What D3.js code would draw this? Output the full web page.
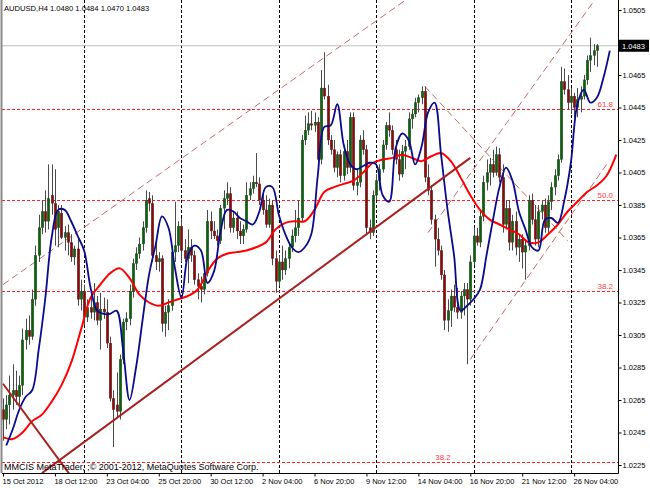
<!DOCTYPE html>
<html><head><meta charset="utf-8">
<script src="https://cdn.jsdelivr.net/npm/d3@7"></script>
<style>
html,body{margin:0;padding:0;background:#fff;}
svg{display:block;}
text{font-family:"Liberation Sans",Arial,sans-serif;}
</style></head><body>
<svg id="chart" width="650" height="488"></svg>
<script>
// ---------------- data ----------------
const chartTitle = "AUDUSD,H4  1.0480 1.0484 1.0470 1.0483";
const copyrightText = "MMCIS MetaTrader, ;\u00A9 2001-2012, MetaQuotes Software Corp.";
const lastPrice = 1.0483;

const openP = [
1.0259,1.0253,1.0262,1.0268,1.0271,1.0267,1.0274,1.0302,1.0308,1.0304,
1.0327,1.0354,1.0371,1.0381,1.0375,1.0391,1.0386,1.0371,1.0380,1.0365,
1.0368,1.0362,1.0353,1.0358,1.0327,1.0332,1.0316,1.0322,1.0319,1.0325,
1.0314,1.0321,1.0319,1.0300,1.0266,1.0262,1.0258,1.0290,1.0313,1.0315,
1.0332,1.0349,1.0355,1.0361,1.0371,1.0389,1.0386,1.0354,1.0350,1.0352,
1.0312,1.0319,1.0323,1.0356,1.0360,1.0372,1.0357,1.0352,1.0359,1.0354,
1.0339,1.0335,1.0333,1.0343,1.0375,1.0369,1.0366,1.0363,1.0383,1.0389,
1.0392,1.0371,1.0377,1.0369,1.0366,1.0370,1.0391,1.0395,1.0399,1.0398,
1.0388,1.0382,1.0373,1.0385,1.0352,1.0338,1.0350,1.0345,1.0352,1.0359,
1.0366,1.0371,1.0377,1.0425,1.0431,1.0435,1.0434,1.0436,1.0413,1.0457,
1.0452,1.0425,1.0419,1.0408,1.0416,1.0403,1.0418,1.0408,1.0439,1.0397,
1.0399,1.0425,1.0419,1.0371,1.0368,1.0391,1.0400,1.0407,1.0422,1.0434,
1.0431,1.0419,1.0413,1.0404,1.0418,1.0421,1.0438,1.0441,1.0448,1.0451,
1.0455,1.0402,1.0394,1.0376,1.0364,1.0357,1.0342,1.0314,1.0320,1.0329,
1.0322,1.0319,1.0329,1.0333,1.0327,1.0350,1.0366,1.0362,1.0378,1.0399,
1.0405,1.0410,1.0405,1.0416,1.0402,1.0373,1.0383,1.0362,1.0375,1.0359,
1.0364,1.0356,1.0360,1.0388,1.0376,1.0364,1.0381,1.0385,1.0371,1.0387,
1.0396,1.0403,1.0413,1.0461,1.0456,1.0448,1.0452,1.0445,1.0450,1.0452,
1.0462,1.0474,1.0477,1.0480];
const highP = [
1.0266,1.0268,1.0280,1.0287,1.0283,1.0280,1.0309,1.0315,1.0317,1.0333,
1.0360,1.0379,1.0388,1.0394,1.0410,1.0410,1.0407,1.0385,1.0385,1.0372,
1.0373,1.0367,1.0360,1.0364,1.0339,1.0336,1.0327,1.0330,1.0337,1.0329,
1.0331,1.0328,1.0327,1.0304,1.0271,1.0282,1.0293,1.0315,1.0319,1.0336,
1.0352,1.0359,1.0365,1.0375,1.0394,1.0393,1.0391,1.0364,1.0356,1.0354,
1.0323,1.0327,1.0360,1.0387,1.0375,1.0377,1.0364,1.0370,1.0364,1.0357,
1.0343,1.0341,1.0347,1.0382,1.0381,1.0375,1.0370,1.0385,1.0394,1.0399,
1.0396,1.0381,1.0381,1.0375,1.0373,1.0399,1.0399,1.0403,1.0417,1.0402,
1.0394,1.0391,1.0389,1.0388,1.0357,1.0354,1.0360,1.0357,1.0362,1.0370,
1.0382,1.0388,1.0428,1.0440,1.0442,1.0443,1.0442,1.0439,1.0468,1.0479,
1.0459,1.0428,1.0425,1.0418,1.0419,1.0422,1.0425,1.0442,1.0442,1.0407,
1.0428,1.0431,1.0422,1.0376,1.0394,1.0404,1.0410,1.0425,1.0436,1.0442,
1.0434,1.0425,1.0419,1.0422,1.0425,1.0442,1.0444,1.0451,1.0453,1.0458,
1.0458,1.0410,1.0397,1.0379,1.0371,1.0360,1.0345,1.0327,1.0333,1.0336,
1.0334,1.0332,1.0337,1.0337,1.0354,1.0371,1.0371,1.0382,1.0403,1.0413,
1.0414,1.0419,1.0421,1.0420,1.0410,1.0388,1.0388,1.0379,1.0381,1.0367,
1.0367,1.0364,1.0391,1.0392,1.0385,1.0385,1.0388,1.0389,1.0391,1.0399,
1.0407,1.0416,1.0470,1.0469,1.0465,1.0457,1.0454,1.0457,1.0458,1.0465,
1.0477,1.0488,1.0484,1.0484];
const lowP = [
1.0240,1.0247,1.0250,1.0259,1.0262,1.0260,1.0268,1.0296,1.0299,1.0302,
1.0323,1.0350,1.0367,1.0368,1.0370,1.0379,1.0360,1.0359,1.0364,1.0357,
1.0354,1.0350,1.0348,1.0323,1.0320,1.0311,1.0313,1.0315,1.0314,1.0311,
1.0296,1.0315,1.0297,1.0264,1.0236,1.0254,1.0253,1.0287,1.0308,1.0311,
1.0328,1.0345,1.0352,1.0357,1.0368,1.0381,1.0350,1.0345,1.0344,1.0307,
1.0304,1.0308,1.0320,1.0350,1.0356,1.0350,1.0350,1.0337,1.0350,1.0336,
1.0327,1.0325,1.0330,1.0341,1.0364,1.0364,1.0360,1.0361,1.0370,1.0385,
1.0368,1.0368,1.0364,1.0361,1.0361,1.0368,1.0388,1.0392,1.0396,1.0385,
1.0379,1.0371,1.0371,1.0348,1.0331,1.0335,1.0339,1.0342,1.0346,1.0356,
1.0362,1.0366,1.0375,1.0422,1.0428,1.0431,1.0430,1.0410,1.0410,1.0450,
1.0422,1.0416,1.0405,1.0402,1.0399,1.0400,1.0404,1.0405,1.0394,1.0391,
1.0396,1.0416,1.0367,1.0364,1.0366,1.0388,1.0394,1.0405,1.0419,1.0427,
1.0416,1.0410,1.0400,1.0402,1.0407,1.0419,1.0432,1.0439,1.0442,1.0447,
1.0399,1.0391,1.0373,1.0347,1.0354,1.0339,1.0308,1.0307,1.0310,1.0319,
1.0315,1.0315,1.0317,1.0287,1.0323,1.0348,1.0360,1.0359,1.0375,1.0394,
1.0397,1.0402,1.0403,1.0399,1.0368,1.0370,1.0357,1.0357,1.0354,1.0350,
1.0346,1.0339,1.0357,1.0373,1.0360,1.0359,1.0376,1.0368,1.0368,1.0382,
1.0391,1.0400,1.0411,1.0453,1.0444,1.0441,1.0439,1.0439,1.0442,1.0450,
1.0459,1.0467,1.0471,1.0470];
const closeP = [
1.0253,1.0262,1.0268,1.0271,1.0267,1.0274,1.0302,1.0308,1.0304,1.0327,
1.0354,1.0371,1.0381,1.0375,1.0389,1.0386,1.0370,1.0381,1.0365,1.0368,
1.0362,1.0353,1.0358,1.0327,1.0332,1.0316,1.0322,1.0319,1.0325,1.0314,
1.0321,1.0319,1.0300,1.0266,1.0259,1.0258,1.0290,1.0313,1.0315,1.0332,
1.0349,1.0355,1.0361,1.0371,1.0388,1.0386,1.0354,1.0350,1.0352,1.0312,
1.0319,1.0323,1.0356,1.0360,1.0372,1.0357,1.0352,1.0359,1.0354,1.0339,
1.0335,1.0333,1.0343,1.0375,1.0369,1.0366,1.0363,1.0383,1.0389,1.0392,
1.0371,1.0377,1.0369,1.0366,1.0370,1.0391,1.0395,1.0399,1.0398,1.0388,
1.0382,1.0373,1.0385,1.0352,1.0338,1.0350,1.0345,1.0352,1.0359,1.0366,
1.0371,1.0377,1.0425,1.0431,1.0435,1.0434,1.0436,1.0413,1.0457,1.0452,
1.0425,1.0419,1.0408,1.0416,1.0403,1.0418,1.0408,1.0439,1.0397,1.0399,
1.0425,1.0419,1.0371,1.0368,1.0391,1.0400,1.0407,1.0422,1.0434,1.0431,
1.0419,1.0413,1.0404,1.0418,1.0421,1.0438,1.0441,1.0448,1.0451,1.0455,
1.0402,1.0394,1.0376,1.0364,1.0357,1.0342,1.0314,1.0320,1.0329,1.0322,
1.0319,1.0329,1.0333,1.0327,1.0350,1.0366,1.0362,1.0378,1.0399,1.0405,
1.0410,1.0405,1.0416,1.0402,1.0373,1.0383,1.0362,1.0375,1.0359,1.0364,
1.0356,1.0360,1.0388,1.0376,1.0364,1.0381,1.0385,1.0371,1.0387,1.0396,
1.0403,1.0413,1.0461,1.0456,1.0448,1.0452,1.0445,1.0450,1.0452,1.0462,
1.0474,1.0477,1.0480,1.0483];

// fast (blue) average, read every 2nd bar starting at bar 1
const blueBars = d3.range(1, 188, 2);
const blueMA = [
1.0237,1.0247,1.0259,1.0267,1.0271,1.0296,1.0327,1.0365,1.0382,1.0382,
1.0375,1.0366,1.0357,1.0334,1.0320,1.0318,1.0318,1.0320,1.0296,1.0265,
1.0285,1.0314,1.0342,1.0360,1.0378,1.0371,1.0346,1.0328,1.0354,1.0360,
1.0357,1.0337,1.0344,1.0368,1.0382,1.0381,1.0377,1.0375,1.0373,1.0381,
1.0396,1.0396,1.0379,1.0367,1.0359,1.0356,1.0359,1.0367,1.0403,1.0433,
1.0434,1.0447,1.0422,1.0410,1.0407,1.0409,1.0411,1.0410,1.0391,1.0387,
1.0420,1.0429,1.0425,1.0410,1.0421,1.0442,1.0448,1.0416,1.0382,1.0354,
1.0320,1.0323,1.0327,1.0333,1.0354,1.0376,1.0396,1.0408,1.0400,1.0381,
1.0370,1.0359,1.0357,1.0376,1.0377,1.0374,1.0388,1.0411,1.0447,1.0456,
1.0448,1.0451,1.0463,1.0480];
// slow (red) average, read every 3rd bar starting at bar 0
const redBars = d3.range(0, 190, 3);
const redMA = [
1.0242,1.0241,1.0245,1.0252,1.0256,1.0264,1.0274,1.0288,1.0308,1.0328,
1.0336,1.0343,1.0346,1.0340,1.0330,1.0325,1.0323,1.0325,1.0327,1.0329,
1.0333,1.0344,1.0352,1.0355,1.0356,1.0357,1.0359,1.0362,1.0370,1.0374,
1.0375,1.0375,1.0382,1.0393,1.0396,1.0398,1.0400,1.0405,1.0411,1.0413,
1.0414,1.0416,1.0414,1.0412,1.0415,1.0417,1.0412,1.0402,1.0391,1.0382,
1.0376,1.0373,1.0370,1.0367,1.0362,1.0362,1.0367,1.0373,1.0381,1.0387,
1.0393,1.0397,1.0403,1.0416];

// drawn objects: [bar, price] anchors
const solidTrendLines = [
  [[12, 1.0220], [144, 1.0414]],
  [[0, 1.0275], [21, 1.0218]]
];
const dashedChannelLines = [
  [[0, 1.0336], [124, 1.0511]],
  [[130, 1.0458], [174, 1.0363]],
  [[131, 1.0368], [183, 1.0513]],
  [[144, 1.0290], [186, 1.0410]]
];
const fibLevels = [1.0444, 1.0388, 1.0332, 1.0227];
const fibLabels = ["61.8", "50.0", "38.2", "38.2"];
const fibLabelBar = [188, 188, 188, 138];

const priceTicks = [1.0505,1.0485,1.0465,1.0445,1.0425,1.0405,1.0385,1.0365,1.0345,1.0325,1.0305,1.0285,1.0265,1.0245,1.0225];
const dateTickBars = [0,16,32,48,64,80,96,112,128,144,160,176];
const dateTickLabels = ["15 Oct 2012","18 Oct 12:00","23 Oct 04:00","25 Oct 20:00","30 Oct 12:00","2 Nov 04:00","6 Nov 20:00","9 Nov 12:00","14 Nov 04:00","16 Nov 20:00","21 Nov 12:00","26 Nov 04:00"];
const weekStartBars = [25,55,85,115,145,175];

// ---------------- layout ----------------
const W = 650, H = 488;
const L = 2, R = 618, T = 0, B = 473;
const svg = d3.select("#chart");
const x = d3.scaleLinear().domain([0, 183]).range([3, 3 + 183 * 3.245]);
const y = d3.scaleLinear().domain([1.0225, 1.0505]).range([465, 10]);

svg.append("defs").append("clipPath").attr("id", "plot")
  .append("rect").attr("x", L).attr("y", T).attr("width", R - L).attr("height", B - T);

const plot = svg.append("g").attr("clip-path", "url(#plot)");

// week separators
plot.selectAll("line.vgrid").data(weekStartBars).enter().append("line")
  .attr("x1", d => Math.round(x(d)) + 0.5).attr("x2", d => Math.round(x(d)) + 0.5)
  .attr("y1", T).attr("y2", B)
  .attr("stroke", "#000").attr("stroke-width", 1).attr("stroke-dasharray", "3,2");

// current price line
plot.append("line").attr("x1", L).attr("x2", R)
  .attr("y1", y(lastPrice)).attr("y2", y(lastPrice))
  .attr("stroke", "#c0c0c0").attr("stroke-width", 1);

// fib levels
plot.selectAll("line.fib").data(fibLevels).enter().append("line")
  .attr("x1", L).attr("x2", R)
  .attr("y1", d => Math.round(y(d)) + 0.5).attr("y2", d => Math.round(y(d)) + 0.5)
  .attr("stroke", "#ff2020").attr("stroke-width", 1).attr("stroke-dasharray", "3,2");
plot.selectAll("text.fib").data(fibLevels).enter().append("text")
  .attr("x", (d, i) => x(fibLabelBar[i])).attr("y", d => y(d) - 2)
  .attr("text-anchor", "end").attr("font-size", "8px").attr("fill", "#ff4040")
  .text((d, i) => fibLabels[i]);

// dashed channel lines
plot.selectAll("line.chan").data(dashedChannelLines).enter().append("line")
  .attr("x1", d => x(d[0][0])).attr("y1", d => y(d[0][1]))
  .attr("x2", d => x(d[1][0])).attr("y2", d => y(d[1][1]))
  .attr("stroke", "#c46a6a").attr("stroke-width", 1).attr("stroke-dasharray", "7,4");

// candles
const bars = d3.range(openP.length);
const cg = plot.append("g");
cg.selectAll("line.wick").data(bars).enter().append("line")
  .attr("x1", i => Math.round(x(i)) + 0.5).attr("x2", i => Math.round(x(i)) + 0.5)
  .attr("y1", i => y(highP[i])).attr("y2", i => y(lowP[i]))
  .attr("stroke", "#4a4a4a").attr("stroke-width", 1);
cg.selectAll("rect.body").data(bars).enter().append("rect")
  .attr("x", i => Math.round(x(i)) - 0.8)
  .attr("width", 2.6)
  .attr("y", i => y(Math.max(openP[i], closeP[i])))
  .attr("height", i => Math.max(1, Math.abs(y(openP[i]) - y(closeP[i]))))
  .attr("fill", i => closeP[i] >= openP[i] ? "#0b640b" : "#8c0a0a")
  .attr("stroke", "#333").attr("stroke-width", 0.3);

// moving averages
const curve = d3.curveCatmullRom.alpha(0.5);
plot.append("path").datum(redBars.map((b, i) => [b, redMA[i]]))
  .attr("d", d3.line().x(d => x(d[0])).y(d => y(d[1])).curve(curve))
  .attr("fill", "none").attr("stroke", "#ff0000").attr("stroke-width", 2);
plot.append("path").datum(blueBars.map((b, i) => [b, blueMA[i]]))
  .attr("d", d3.line().x(d => x(d[0])).y(d => y(d[1])).curve(curve))
  .attr("fill", "none").attr("stroke", "#0a0a8c").attr("stroke-width", 1.8);

// solid trend lines
plot.selectAll("line.trend").data(solidTrendLines).enter().append("line")
  .attr("x1", d => x(d[0][0])).attr("y1", d => y(d[0][1]))
  .attr("x2", d => x(d[1][0])).attr("y2", d => y(d[1][1]))
  .attr("stroke", "#a82020").attr("stroke-width", 2);

// frame
svg.append("line").attr("x1", 1.5).attr("x2", 1.5).attr("y1", 0).attr("y2", B)
  .attr("stroke", "#8a8a8a").attr("stroke-width", 2);
svg.append("line").attr("x1", R + 0.5).attr("x2", R + 0.5).attr("y1", 0).attr("y2", B + 0.5)
  .attr("stroke", "#000").attr("stroke-width", 1);
svg.append("line").attr("x1", L).attr("x2", R + 0.5).attr("y1", B + 0.5).attr("y2", B + 0.5)
  .attr("stroke", "#000").attr("stroke-width", 1);

// right price axis (the label hidden by the current-price box is not printed)
const py = y(lastPrice);
const yAxis = d3.axisRight(y).tickValues(priceTicks)
  .tickFormat(d => Math.abs(y(d) - py) < 8 ? "" : d3.format(".4f")(d))
  .tickSize(3).tickSizeOuter(0);
const ya = svg.append("g").attr("transform", `translate(${R + 0.5},0)`).call(yAxis);
ya.select(".domain").remove();
ya.selectAll("text").attr("font-size", "7.5px").attr("font-family", "Liberation Sans, Arial, sans-serif")
  .attr("fill", "#000").attr("x", 4);
ya.selectAll("line").attr("stroke", "#000");

// bottom time axis
const xAxis = d3.axisBottom(x).tickValues(dateTickBars)
  .tickFormat((d, i) => dateTickLabels[i]).tickSize(3).tickSizeOuter(0);
const xa = svg.append("g").attr("transform", `translate(0,${B + 0.5})`).call(xAxis);
xa.select(".domain").remove();
xa.selectAll("text").attr("font-size", "7.5px").attr("font-family", "Liberation Sans, Arial, sans-serif")
  .attr("fill", "#000").attr("text-anchor", "start").attr("dx", "-1").attr("y", 5);
xa.selectAll("line").attr("stroke", "#000");

// current price box
svg.append("rect").attr("x", R + 1).attr("y", py - 6).attr("width", 30).attr("height", 12).attr("fill", "#000");
svg.append("text").attr("x", R + 4).attr("y", py + 3).attr("font-size", "7.5px")
  .attr("fill", "#fff").text(d3.format(".4f")(lastPrice));

// title & copyright
svg.append("text").attr("x", 4).attr("y", 11).attr("font-size", "7.6px").attr("fill", "#000").text(chartTitle);
svg.append("text").attr("x", 4).attr("y", 470).attr("font-size", "9px").attr("fill", "#000").text(copyrightText);
</script>
</body></html>
